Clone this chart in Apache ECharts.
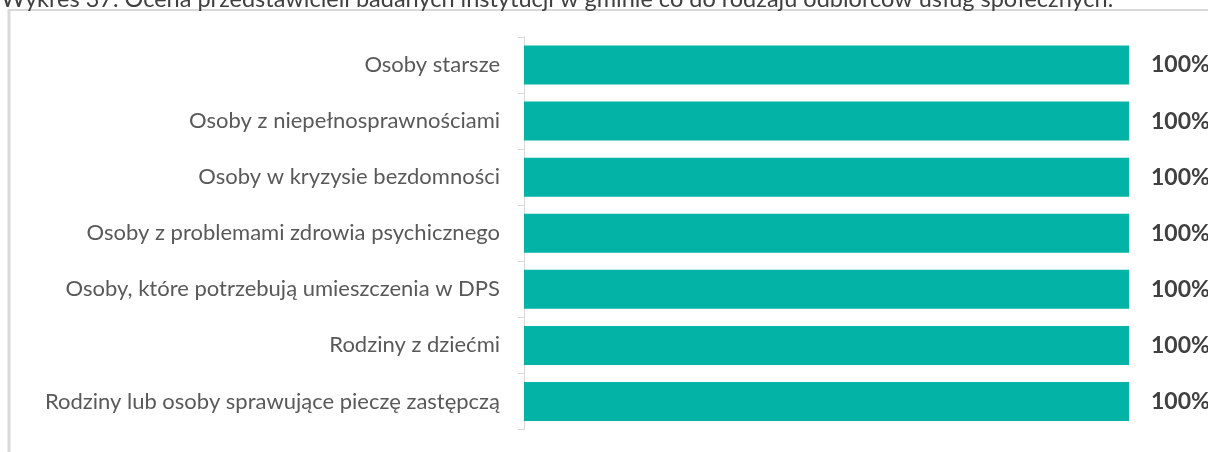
<!DOCTYPE html>
<html>
<head>
<meta charset="utf-8">
<script src="https://cdn.jsdelivr.net/npm/echarts@6/dist/echarts.min.js"></script>
<style>
  html, body { margin: 0; padding: 0; background: #ffffff; }
  #chart { width: 1208px; height: 452px; }
</style>
</head>
<body>
<div id="chart"></div>
<script>
// Recipient groups of social services and the share of answers for each
const categories = [
  'Osoby starsze',
  'Osoby z niepełnosprawnościami',
  'Osoby w kryzysie bezdomności',
  'Osoby z problemami zdrowia psychicznego',
  'Osoby, które potrzebują umieszczenia w DPS',
  'Rodziny z dziećmi',
  'Rodziny lub osoby sprawujące pieczę zastępczą'
];
const values = [100, 100, 100, 100, 100, 100, 100];
const titleText = 'Wykres 37. Ocena przedstawicieli badanych instytucji w gminie co do rodzaju odbiorców usług społecznych.';

const FONT = 'Lato, "Open Sans", sans-serif';
const chart = echarts.init(document.getElementById('chart'));

chart.setOption({
  animation: false,
  backgroundColor: '#ffffff',
  grid: { left: 524, right: 79, top: 37, bottom: 22.5, containLabel: false },
  xAxis: {
    type: 'value', min: 0, max: 100, show: false
  },
  yAxis: {
    type: 'category',
    data: categories,
    inverse: true,
    axisLine: { show: true, lineStyle: { color: '#d9d9d9', width: 1 } },
    axisTick: { show: true, length: 6, lineStyle: { color: '#d9d9d9' } },
    axisLabel: { color: '#595959', fontFamily: FONT, fontSize: 22, margin: 24 },
    splitLine: { show: false }
  },
  series: [{
    type: 'bar',
    data: values,
    barWidth: 39,
    itemStyle: { color: '#02b3a6' },
    label: {
      show: true,
      position: 'right',
      distance: 22,
      formatter: p => p.value + '%',
      color: '#404040',
      fontFamily: FONT,
      fontWeight: 'bold',
      fontSize: 23
    }
  }],
  graphic: [
    { type: 'line', shape: { x1: 9, y1: 9, x2: 9, y2: 452 }, style: { stroke: '#d9d9d9', lineWidth: 3 } },
    { type: 'line', shape: { x1: 8, y1: 10, x2: 1208, y2: 10 }, style: { stroke: '#d9d9d9', lineWidth: 2 } },
    {
      type: 'text', left: 1, top: -13,
      style: { text: titleText, fill: '#404040', font: '23.5px ' + FONT }
    }
  ]
});
</script>
</body>
</html>
